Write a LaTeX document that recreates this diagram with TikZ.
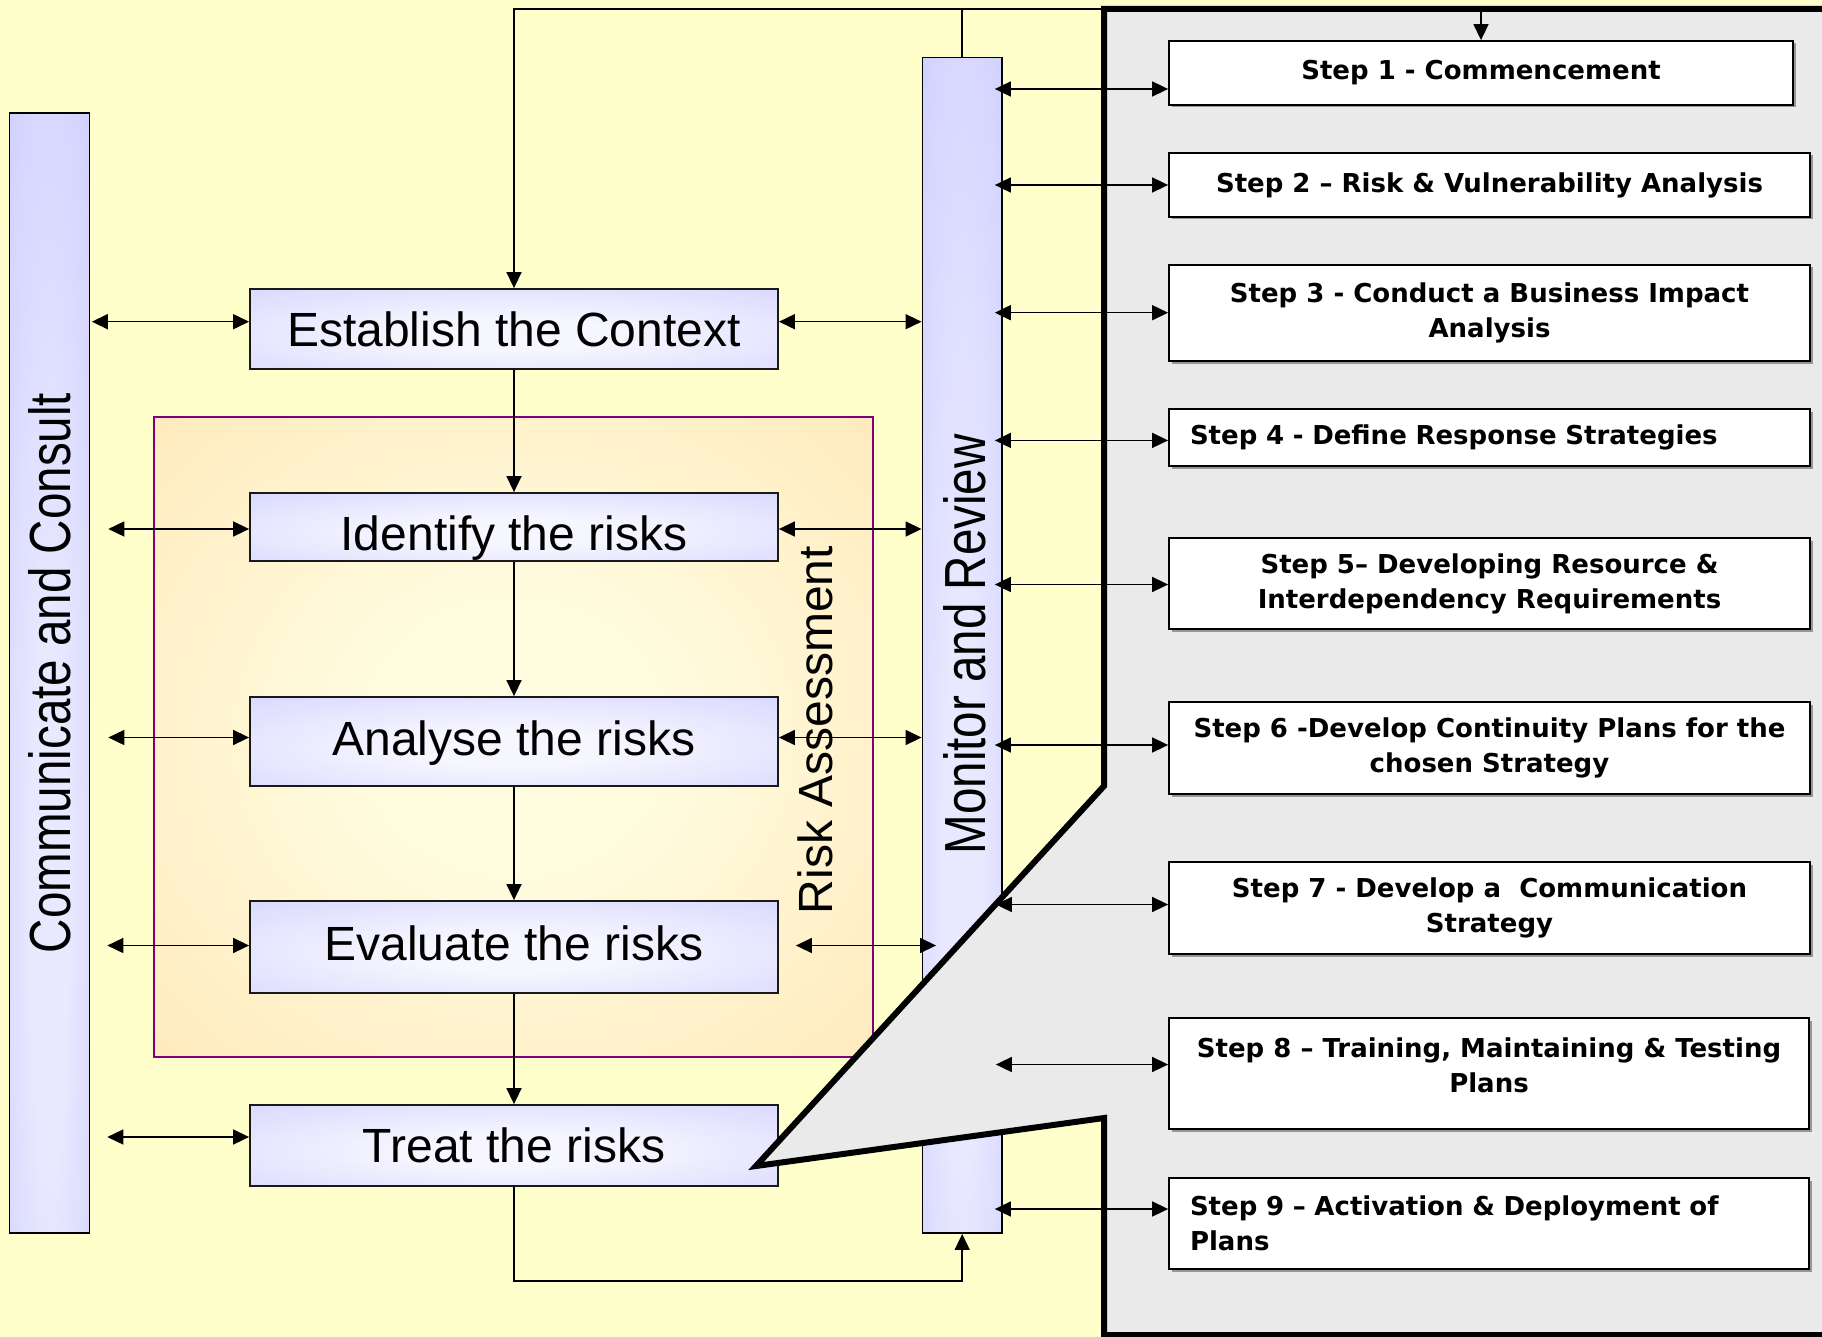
\documentclass[tikz,border=0pt]{standalone}
\usepackage{fontspec}
\setmainfont{Liberation Sans}
\newfontfamily\stepfont{DejaVu Sans}
\newfontfamily\barfont[FakeStretch=0.82]{Liberation Sans}
\usetikzlibrary{arrows.meta,shadows,calc}

\definecolor{bgyellow}{HTML}{FFFFCC}
\definecolor{callgray}{HTML}{EAEAEA}
\definecolor{barblue}{HTML}{CACAFF}
\definecolor{barlight}{HTML}{E8E8FF}
\definecolor{procedge}{HTML}{CCCCFF}
\definecolor{proclight}{HTML}{F6F6FF}
\definecolor{riskedge}{HTML}{FFE3AE}
\definecolor{risklight}{HTML}{FFFCE0}
\definecolor{riskline}{HTML}{800080}

\pgfdeclareradialshading{procshade}{\pgfpoint{0bp}{-4bp}}{color(0bp)=(proclight); color(10bp)=(proclight); color(50bp)=(procedge); color(100bp)=(procedge)}
\pgfdeclareradialshading{riskshade}{\pgfpoint{0bp}{0bp}}{color(0bp)=(risklight); color(10bp)=(risklight); color(46bp)=(riskedge); color(100bp)=(riskedge)}
\pgfdeclareradialshading{barshade}{\pgfpoint{0bp}{-12bp}}{color(0bp)=(barlight); color(12bp)=(barlight); color(50bp)=(barblue); color(100bp)=(barblue)}

\begin{document}
\begin{tikzpicture}[x=1pt,y=-1pt,
  conn/.style={draw=black, line width=1.6pt},
  arr/.style={conn, -{Triangle[length=16pt,width=15pt]}},
  darr/.style={conn, {Triangle[length=16pt,width=15pt]}-{Triangle[length=16pt,width=15pt]}},
  bar/.style={draw=black, line width=1.8pt, shading=barshade, inner sep=0pt, minimum width=80pt},
  barlabel/.style={rotate=90, inner sep=0pt, font=\barfont\fontsize{58}{60}\selectfont, text height=41.5pt, text depth=0pt},
  riskbox/.style={draw=riskline, line width=1.5pt, shading=riskshade, inner sep=0pt},
  risklabel/.style={rotate=90, inner sep=0pt, font=\fontsize{48}{56}\selectfont, text height=34.4pt, text depth=0pt},
  proc/.style={draw=black!90, line width=1.8pt, shading=procshade, minimum width=528pt, inner sep=0pt,
    font=\fontsize{48}{56}\selectfont, text height=34.4pt, text depth=0pt},
  stepbox/.style={draw=black, line width=1.8pt, fill=white, inner sep=0pt, align=center,
    drop shadow={shadow xshift=2.5pt, shadow yshift=-2.5pt, fill=black!55, opacity=0.7},
    font=\stepfont\bfseries\fontsize{26}{35}\selectfont},
  steptext/.style={inner sep=0pt, align=center, font=\stepfont\bfseries\fontsize{26}{35}\selectfont},
  callout/.style={draw=black, line width=6pt, fill=callgray, line join=miter}
]
\useasboundingbox (0,0) rectangle (1822,1337);
\clip (0,0) rectangle (1822,1337);
\fill[bgyellow] (0,0) rectangle (1822,1337);

% rows of the horizontal connectors
\coordinate (r1) at (0,321.7);
\coordinate (r2) at (0,529);
\coordinate (r3) at (0,737.5);
\coordinate (r4) at (0,945.5);
\coordinate (r5) at (0,1137);
\coordinate (q1) at (0,89);
\coordinate (q2) at (0,185);
\coordinate (q3) at (0,312.7);
\coordinate (q4) at (0,440.4);
\coordinate (q5) at (0,584.5);
\coordinate (q6) at (0,745);
\coordinate (q7) at (0,904.5);
\coordinate (q8) at (0,1064.5);
\coordinate (q9) at (0,1209);
\coordinate (cotl) at (1104,9);
\coordinate (bot) at (0,1281);

% risk assessment frame
\node[riskbox, minimum width=719pt, minimum height=640pt] (risk) at (513.5,737) {};

% side bars
\node[bar, minimum height=1120.5pt] (comm) at (49.4,672.9) {};
\node[bar, minimum height=1175.5pt, minimum width=79.5pt] (mon) at (962.2,645.3) {};

% process boxes
\node[proc, minimum height=80pt] (est) at (514,329) {Establish the Context};
\node[proc, minimum height=68pt, text height=47.4pt] (ident) at (514,527) {Identify the risks};
\node[proc, minimum height=89pt, text depth=7pt] (anal) at (514,741.5) {Analyse the risks};
\node[proc, minimum height=92pt, text depth=8pt] (eval) at (514,947) {Evaluate the risks};
\node[proc, minimum height=81pt] (treat) at (514,1145.5) {Treat the risks};

% labels
\node[barlabel] (commlabel) at (comm.center) {Communicate and Consult};
\node[barlabel] (monlabel) at ($(mon.center)+(2.5,-1)$) {Monitor and Review};
\node[risklabel] (risklabel) at (815.5,730) {Risk Assessment};

% main flow
\draw[arr] (mon.north) -- (mon.north |- cotl) -| (est.north);
\draw[conn] (mon.north |- cotl) -- (cotl);
\draw[arr] (est.south) -- (ident.north);
\draw[arr] (ident.south) -- (anal.north);
\draw[arr] (anal.south) -- (eval.north);
\draw[arr] (eval.south) -- (treat.north);
\draw[arr] (treat.south) -- (treat.south |- bot) -| (mon.south);

% communicate links
\draw[darr] ($(comm.east |- r1)+(1.5,0)$) -- (est.west |- r1);
\draw[darr] ($(comm.east |- r2)+(18,0)$) -- (ident.west |- r2);
\draw[darr] ($(comm.east |- r3)+(18,0)$) -- (anal.west |- r3);
\draw[darr] ($(comm.east |- r4)+(17,0)$) -- (eval.west |- r4);
\draw[darr] ($(comm.east |- r5)+(17,0)$) -- (treat.west |- r5);

% monitor links
\draw[darr] (est.east |- r1) -- (mon.west |- r1);
\draw[darr] (ident.east |- r2) -- (mon.west |- r2);
\draw[darr] (anal.east |- r3) -- (mon.west |- r3);
\draw[darr] ($(eval.east |- r4)+(17,0)$) -- ($(mon.west |- r4)+(14.5,0)$);

% callout holding the continuity steps
\draw[callout] (cotl) -- (1845,9) -- (1845,1335) -- (1104,1335) -- (1104,1118) -- (756,1166) -- (1104,786) -- cycle;

% continuity steps
\node[stepbox, minimum width=624pt, minimum height=64pt] (s1) at (1481,73) {Step 1 - Commencement};
\node[stepbox, minimum width=641pt, minimum height=64pt] (s2) at (1489.5,185) {Step 2 – Risk \& Vulnerability Analysis};
\node[stepbox, minimum width=641pt, minimum height=96pt] (s3) at (1489.5,313) {Step 3 - Conduct a Business Impact\\Analysis};
\node[stepbox, minimum width=641pt, minimum height=57pt, align=left, text width=599pt, inner xsep=21pt] (s4) at (1489.5,437.5) {Step 4 - Define Response Strategies};
\node[stepbox, minimum width=641pt, minimum height=91pt] (s5) at (1489.5,583.5) {Step 5– Developing Resource \&\\Interdependency Requirements};
\node[stepbox, minimum width=641pt, minimum height=92pt] (s6) at (1489.5,748) {Step 6 -Develop Continuity Plans for the\\chosen Strategy};
\node[stepbox, minimum width=641pt, minimum height=92pt] (s7) at (1489.5,908) {Step 7 - Develop a\ \ Communication\\Strategy};
\node[stepbox, minimum width=640pt, minimum height=111pt] (s8) at (1489,1073.5) {};
\node[steptext] (s8text) at (1489,1065.5) {Step 8 – Training, Maintaining \& Testing\\Plans};
\node[stepbox, minimum width=640pt, minimum height=91pt, align=left, text width=598pt, inner xsep=21pt] (s9) at (1489,1223.5) {Step 9 – Activation \& Deployment of\\Plans};

\draw[arr] (s1.north |- cotl) -- (s1.north);
\draw[darr] ($(mon.east |- q1)+(-8,0)$) -- (s1.west |- q1);
\draw[darr] ($(mon.east |- q2)+(-8,0)$) -- (s2.west |- q2);
\draw[darr] ($(mon.east |- q3)+(-8,0)$) -- (s3.west |- q3);
\draw[darr] ($(mon.east |- q4)+(-8,0)$) -- (s4.west |- q4);
\draw[darr] ($(mon.east |- q5)+(-8,0)$) -- (s5.west |- q5);
\draw[darr] ($(mon.east |- q6)+(-8,0)$) -- (s6.west |- q6);
\draw[darr] ($(mon.east |- q7)+(-7,0)$) -- (s7.west |- q7);
\draw[darr] ($(mon.east |- q8)+(-7,0)$) -- (s8.west |- q8);
\draw[darr] ($(mon.east |- q9)+(-8,0)$) -- (s9.west |- q9);
\end{tikzpicture}
\end{document}
